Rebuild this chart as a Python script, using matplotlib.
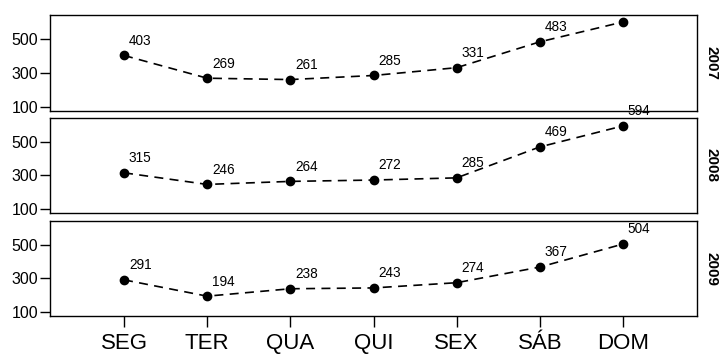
import matplotlib
matplotlib.use("Agg")
import matplotlib.pyplot as plt
from matplotlib.transforms import Bbox, TransformedBbox

days = ["SEG", "TER", "QUA", "QUI", "SEX", "SÁB", "DOM"]
years = ["2007", "2008", "2009"]
v2007 = [403, 269, 261, 285, 331, 483, 600]
v2008 = [315, 246, 264, 272, 285, 469, 594]
v2009 = [291, 194, 238, 243, 274, 367, 504]
series = [v2007, v2008, v2009]
yticks = [100, 300, 500]

plt.rcParams['font.family'] = ['Liberation Sans', 'DejaVu Sans']

fig = plt.figure(figsize=(7.2, 3.54), dpi=100)
left, right = 50 / 720, 697 / 720
panels = [(15, 111), (118, 213), (221, 316)]
axes = []
for (top, bot) in panels:
    ax = fig.add_axes([left, 1 - bot / 354, right - left, (bot - top) / 354])
    axes.append(ax)

# clip region: union of all panels
clip_bbox = TransformedBbox(Bbox([[left, 1 - 316 / 354], [right, 1 - 15 / 354]]), fig.transFigure)

ylim = (76, 641)
x = list(range(1, len(days) + 1))
for i, (ax, vals, yr) in enumerate(zip(axes, series, years)):
    ax.plot(x, vals, color='black', linestyle=(0, (5.4, 3.8)), linewidth=1.2,
            marker='o', markersize=6, zorder=3)
    for xi, v in zip(x, vals):
        # labels that would fall above the top panel are hidden (as in the reference)
        if i == 0 and v > ylim[1] - 60:
            continue
        t = ax.annotate(str(v), (xi, v), xytext=(3.5, 5.5), textcoords='offset points',
                        fontsize=9.8, ha='left', va='bottom', annotation_clip=False)
        t.set_clip_on(True)
        t.set_clip_box(clip_bbox)
    ax.set_xlim(0.11, 7.89)
    ax.set_ylim(*ylim)
    ax.set_yticks(yticks)
    ax.tick_params(axis='y', direction='out', length=7.5, width=1, labelsize=11.5, pad=1,
                   right=False)
    if i < 2:
        ax.tick_params(axis='x', bottom=False, labelbottom=False, top=False)
    else:
        ax.set_xticks(x)
        ax.set_xticklabels(days)
        ax.tick_params(axis='x', direction='out', length=8, width=1, labelsize=16, pad=4,
                       top=False)
    for s in ax.spines.values():
        s.set_linewidth(1.0)
    ax.text(1.012, 0.5, yr, transform=ax.transAxes, rotation=-90, ha='left', va='center',
            fontsize=11, fontweight='bold')

fig.savefig("out.png", dpi=100)
